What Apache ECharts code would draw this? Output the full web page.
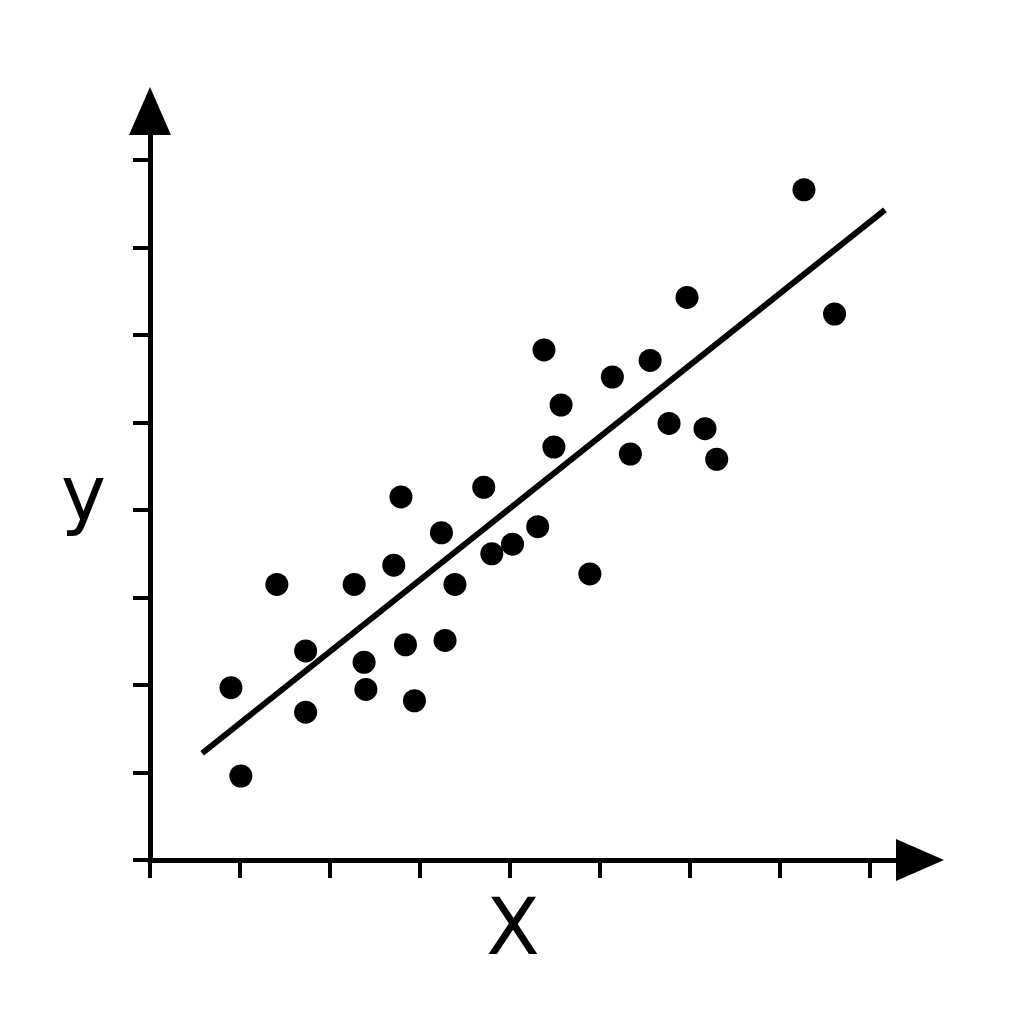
<!DOCTYPE html>
<html>
<head>
<meta charset="utf-8">
<script src="https://cdn.jsdelivr.net/npm/echarts@6/dist/echarts.min.js"></script>
<style>html,body{margin:0;padding:0;background:#fff}#c{width:1024px;height:1024px}</style>
</head>
<body>
<div id="c"></div>
<script>
// Scatter points [x, y]
const pointsX = [0.90, 1.01, 1.41, 1.73, 1.73, 2.27, 2.38, 2.40, 2.71, 2.79, 2.84, 2.94, 3.24, 3.28, 3.39, 3.71, 3.80, 4.03, 4.31, 4.38, 4.49, 4.57, 4.89, 5.14, 5.34, 5.56, 5.77, 5.97, 6.17, 6.30, 7.27, 7.61];
const pointsY = [1.97, 0.96, 3.15, 2.39, 1.69, 3.15, 2.26, 1.95, 3.37, 4.15, 2.46, 1.82, 3.74, 2.51, 3.15, 4.26, 3.50, 3.61, 3.81, 5.83, 4.72, 5.20, 3.27, 5.52, 4.64, 5.71, 4.99, 6.43, 4.93, 4.58, 7.66, 6.24];
// Fitted trend line endpoints
const trendX = [0.58, 8.17];
const trendY = [1.22, 7.43];
// Tick positions
const xTicks = [0, 1, 2, 3, 4, 5, 6, 7, 8];
const yTicks = [0, 1, 2, 3, 4, 5, 6, 7, 8];
const xName = 'X';
const yName = 'y';

const scatterData = pointsX.map((x, i) => [x, pointsY[i]]);
const trendData = trendX.map((x, i) => [x, trendY[i]]);

const chart = echarts.init(document.getElementById('c'), null, {renderer: 'canvas'});
chart.setOption({
  backgroundColor: '#ffffff',
  animation: false,
  grid: {left: 150, right: 104, top: 111, bottom: 164, containLabel: false},
  xAxis: {
    type: 'value', min: 0, max: 8.56,
    name: xName, nameLocation: 'middle', nameGap: 35,
    nameTextStyle: {fontFamily: 'DejaVu Sans', fontSize: 78, color: '#000', padding: [0, 44, 0, 0]},
    axisLine: {show: true, onZero: false, symbol: ['none', 'triangle'], symbolSize: [42, 48],
      lineStyle: {color: '#000', width: 5, cap: 'square'}},
    axisTick: {show: true, customValues: xTicks, length: 18, lineStyle: {color: '#000', width: 4}},
    axisLabel: {show: false},
    splitLine: {show: false}
  },
  yAxis: {
    type: 'value', min: 0, max: 8.56,
    name: yName, nameLocation: 'middle', nameGap: 44, nameRotate: 0,
    nameTextStyle: {fontFamily: 'DejaVu Sans', fontSize: 76, color: '#000', verticalAlign: 'top', lineHeight: 30},
    axisLine: {show: true, onZero: false, symbol: ['none', 'triangle'], symbolSize: [42, 48],
      lineStyle: {color: '#000', width: 5, cap: 'square'}},
    axisTick: {show: true, customValues: yTicks, length: 17, lineStyle: {color: '#000', width: 4}},
    axisLabel: {show: false},
    splitLine: {show: false}
  },
  series: [
    {type: 'line', data: trendData, showSymbol: false, symbol: 'none',
      lineStyle: {color: '#000', width: 6}, z: 2},
    {type: 'scatter', data: scatterData, symbol: 'circle', symbolSize: 23,
      itemStyle: {color: '#000', opacity: 1}, z: 3}
  ]
});
</script>
</body>
</html>
